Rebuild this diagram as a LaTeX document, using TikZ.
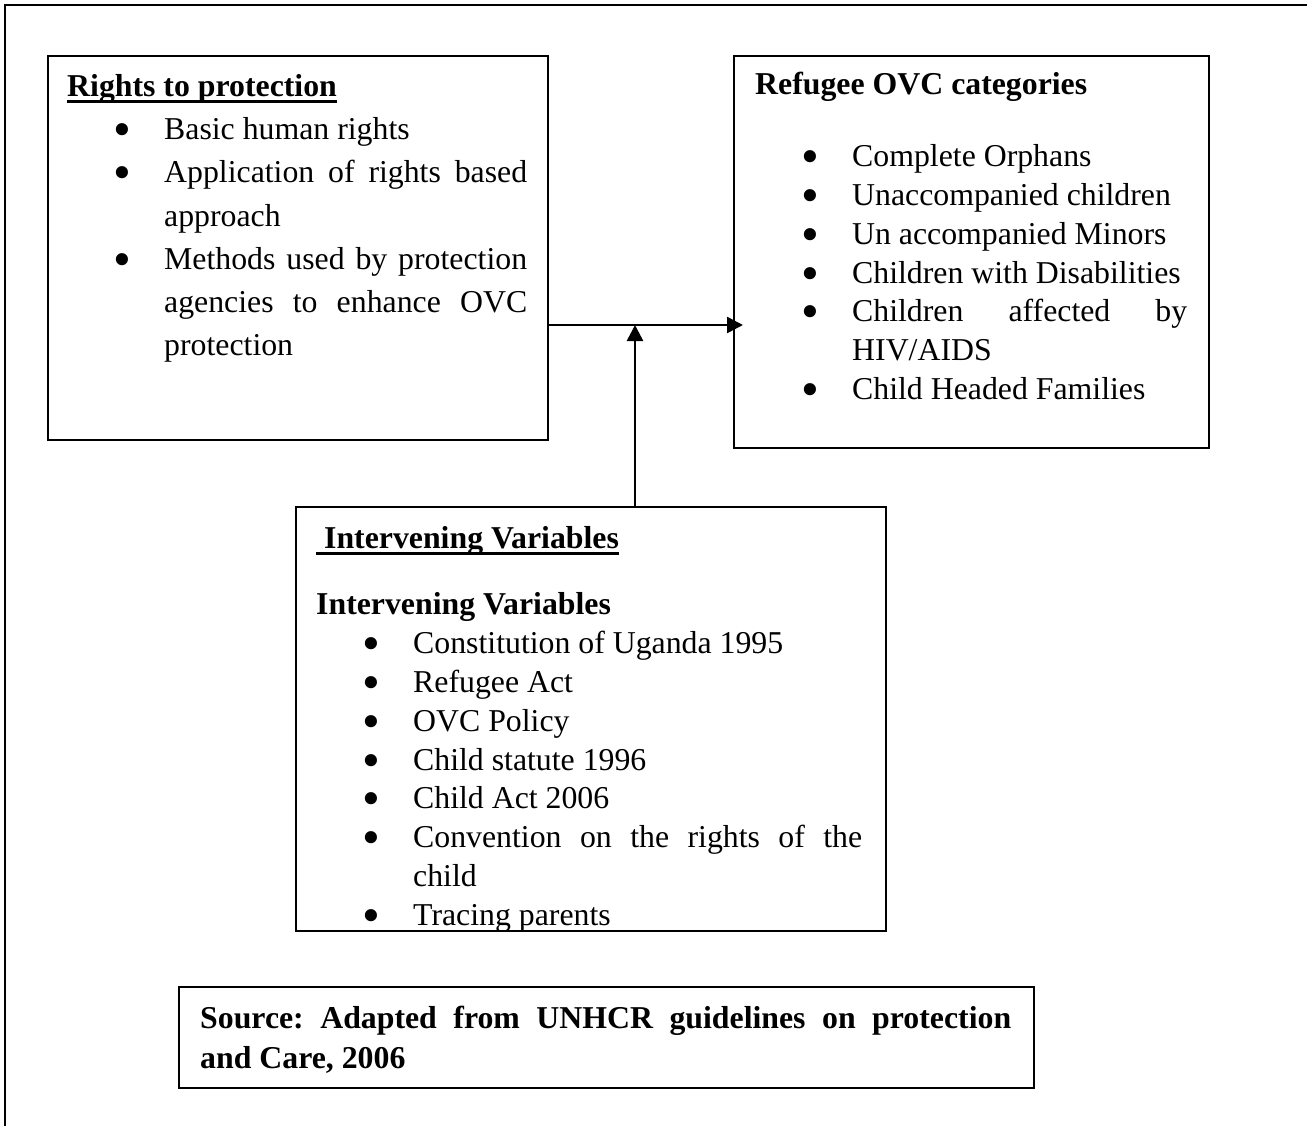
\documentclass[tikz,border=0pt]{standalone}
\usepackage{graphicx}
\usepackage{fontspec}
\setmainfont{Liberation Serif}
\usepackage{enumitem}
\usetikzlibrary{arrows.meta}

% underlined heading with a thick rule through the descenders
\newsavebox{\ulsave}
\newcommand{\headul}[1]{\sbox{\ulsave}{#1}\rlap{\rule[-6.5pt]{\wd\ulsave}{3pt}}\usebox{\ulsave}}
% big round bullet as in the original
\newcommand{\bigdot}{\smash{\raisebox{-7pt}{\scalebox{1.6}{\textbullet}}}}
\setlist[itemize]{label=\bigdot, leftmargin=97pt, labelwidth=20pt, labelsep=33pt,
  itemsep=0pt, topsep=0pt, parsep=0pt, partopsep=0pt}
\hyphenpenalty=10000
\frenchspacing

\begin{document}
\begin{tikzpicture}[x=1pt, y=-1pt,
    box node/.style={draw, line width=2.4pt, inner sep=0pt, anchor=north west},
    text node/.style={inner sep=0pt, anchor=base west, align=justify,
                      font=\fontsize{31.8}{38.8}\selectfont},
    flow/.style={line width=2.6pt, -{Triangle[length=16pt,width=16pt]}}]

  \useasboundingbox (0,0) rectangle (1307,1126);
  \draw[line width=2.5pt] (5,1126) -- (5,5) -- (1307,5);

  % boxes
  \node[box node, minimum width=500pt, minimum height=384pt] (rights) at (47,55) {};
  \node[box node, minimum width=475pt, minimum height=392pt] (ovc) at (733,55) {};
  \node[box node, minimum width=590pt, minimum height=424pt] (interv) at (295,506) {};
  \node[box node, minimum width=855pt, minimum height=101pt] (source) at (178,986) {};

  % box contents
  \node[text node, text width=460pt, font=\fontsize{31.8}{43.2}\selectfont] (rightstext) at (67,96.5) {%
    {\bfseries\headul{Rights to protection}}
    \begin{itemize}
      \item Basic human rights
      \item Application of rights based\linebreak approach
      \item Methods used by protection\linebreak agencies to enhance OVC\linebreak protection
    \end{itemize}};

  \node[text node, text width=432pt] (ovctext) at (755,95) {%
    {\bfseries Refugee OVC categories}\par\vspace{33pt}
    \begin{itemize}
      \item Complete Orphans
      \item Unaccompanied children
      \item Un accompanied Minors
      \item Children with Disabilities
      \item Children affected by\linebreak HIV/AIDS
      \item Child Headed Families
    \end{itemize}};

  \node[text node, text width=546pt] (intervtext) at (316,548) {%
    {\bfseries\headul{\ Intervening Variables}}\par\vspace{28pt}
    {\bfseries Intervening Variables}
    \begin{itemize}
      \item Constitution of Uganda 1995
      \item Refugee Act
      \item OVC Policy
      \item Child statute 1996
      \item Child Act 2006
      \item Convention on the rights of the\linebreak child
      \item Tracing parents
    \end{itemize}};

  \node[text node, text width=811pt, font=\fontsize{31.8}{40}\selectfont\bfseries] (sourcetext) at (200,1028)
    {Source: Adapted from UNHCR guidelines on protection\linebreak and Care, 2006};

  % connectors
  \coordinate (joint) at (635,325);
  \draw[flow, shorten >=-10pt] (rights.east |- joint) -- (ovc.west |- joint);
  \draw[flow] (interv.north -| joint) -- (joint);
\end{tikzpicture}
\end{document}
